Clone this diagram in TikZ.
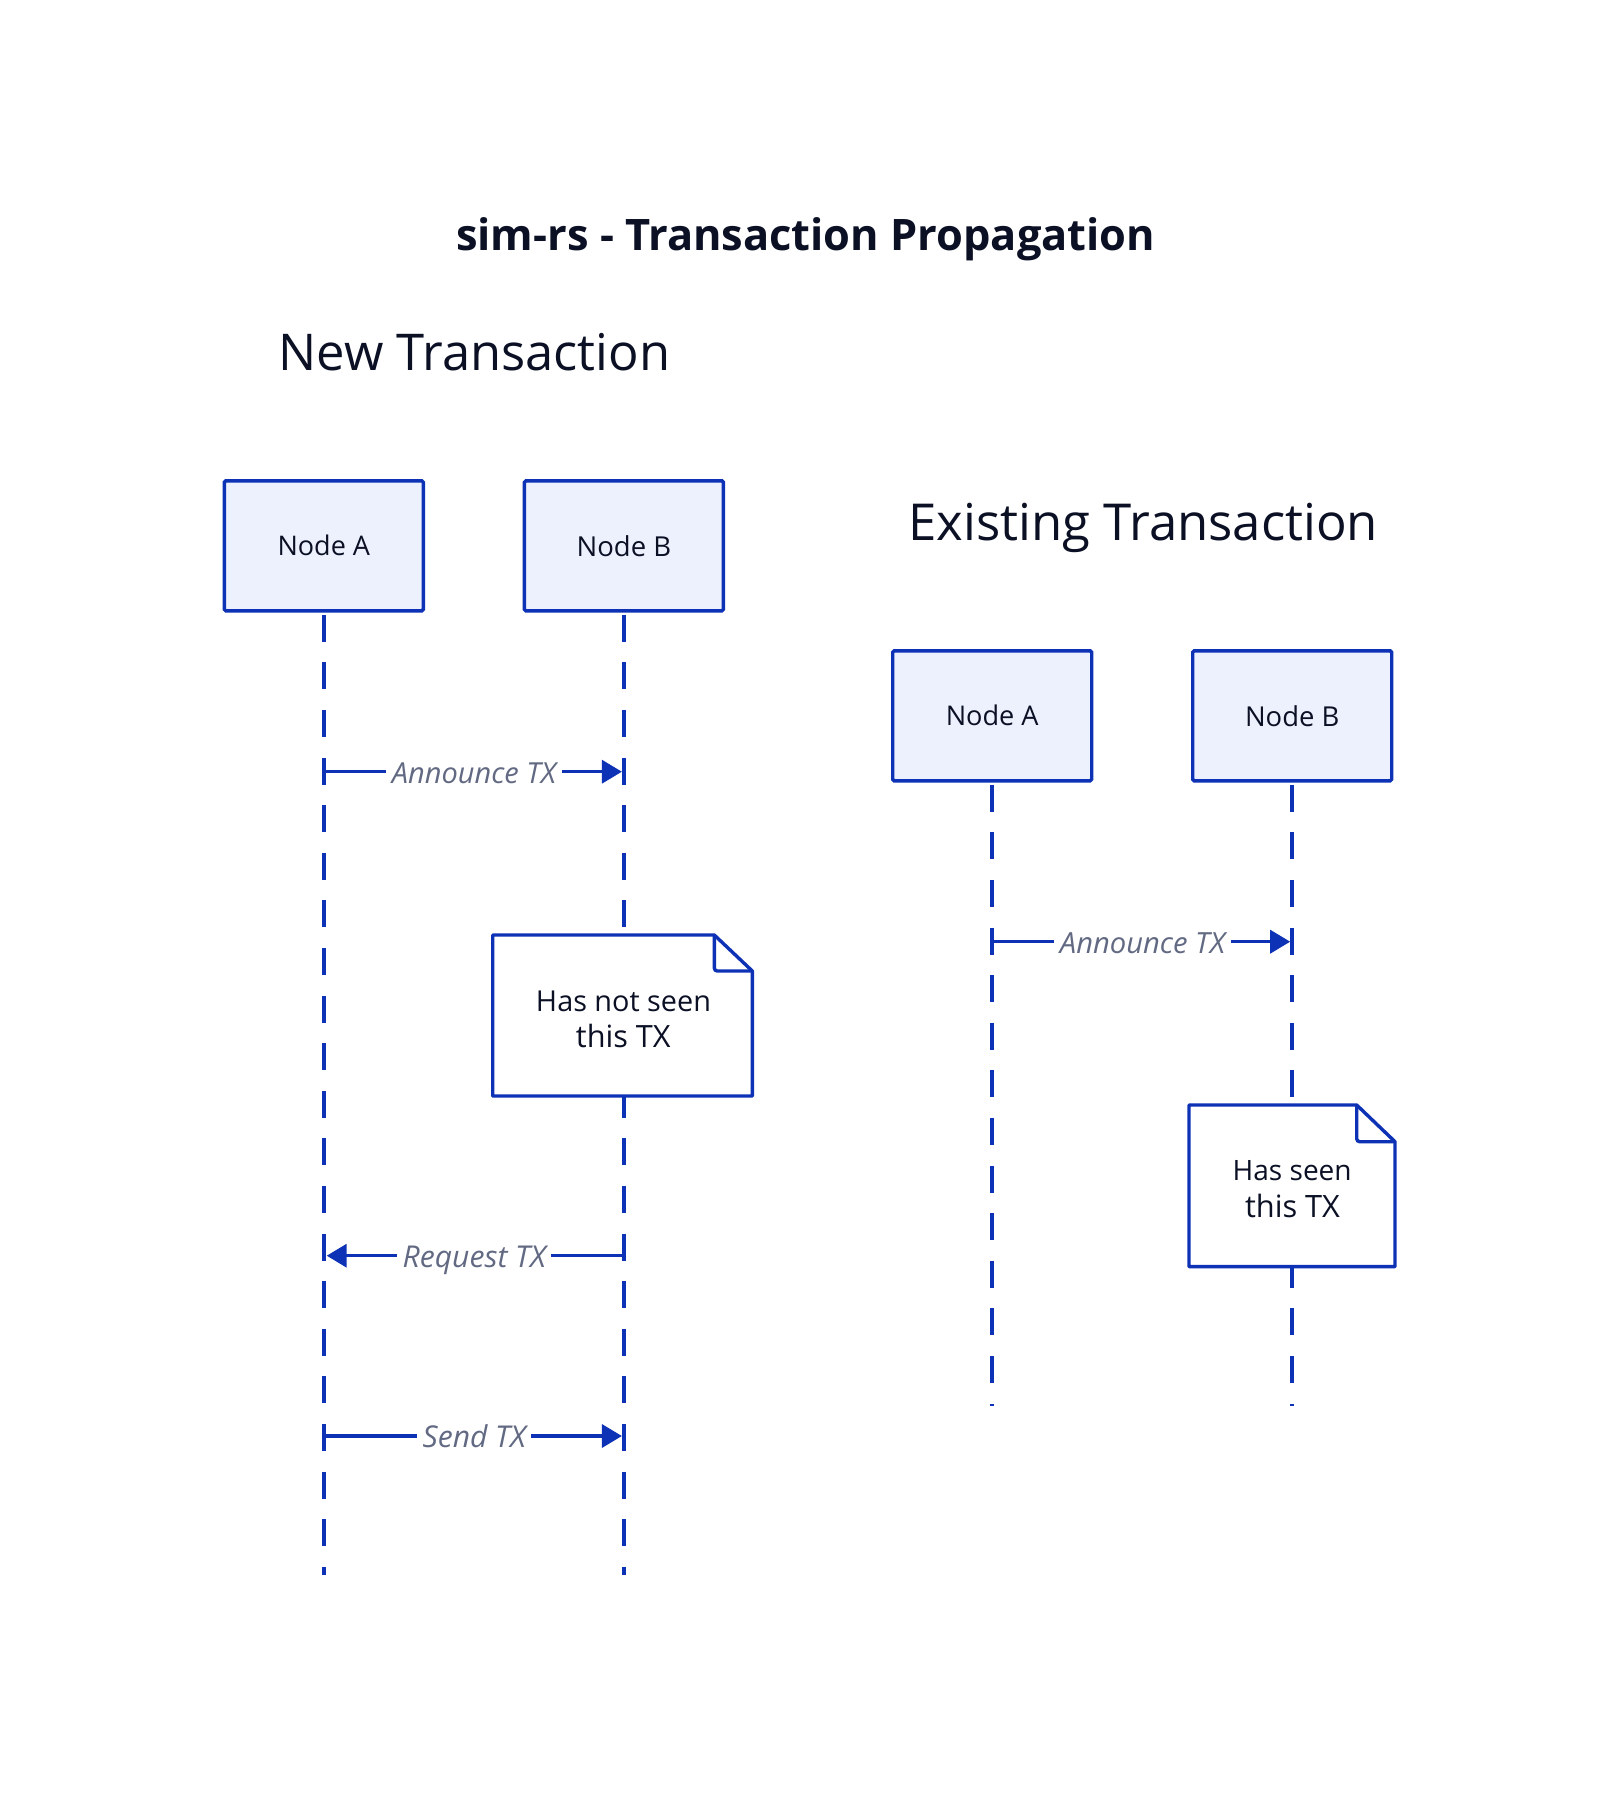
\documentclass[tikz,border=0pt]{standalone}
\usepackage{fontspec}
\setmainfont{Open Sans}
\usetikzlibrary{arrows.meta}
\definecolor{lnblue}{RGB}{13,50,181}
\definecolor{boxfill}{RGB}{236,241,253}
\definecolor{txtdark}{RGB}{11,16,37}
\definecolor{lblgray}{RGB}{98,105,130}
\newcommand{\fitw}[2]{\resizebox{#1pt}{!}{#2}}
\tikzset{
  actor/.style={draw=lnblue, fill=boxfill, line width=3.4pt, rounded corners=1.5pt,
    minimum width=199pt, minimum height=130pt, inner sep=0pt, text=txtdark},
  lifeline/.style={draw=lnblue, line width=3.5pt, dash pattern=on 27pt off 20.6pt, dash phase=45.4pt},
  msg/.style={draw=lnblue, line width=3.5pt, -{Triangle[length=20pt,width=23pt]}},
  msglabel/.style={fill=white, inner xsep=5.5pt, inner ysep=1pt, text=lblgray, anchor=base, font=\itshape},
  notebox/.style={draw=lnblue, fill=white, line width=3.4pt, line join=round},
  notefold/.style={draw=lnblue, line width=3.4pt, rounded corners=3pt},
  notetext/.style={text=txtdark, anchor=base, inner sep=0pt},
  heading/.style={text=txtdark, anchor=base west, inner sep=0pt}
}
\begin{document}
\begin{tikzpicture}[x=1pt,y=-1pt]
\fill[white] (0,0) rectangle (1616,1800);
\useasboundingbox (0,0) rectangle (1616,1800);

% titles
\node[heading] (title) at (456,250) {\fitw{699}{\bfseries sim-rs - Transaction Propagation}};
\node[heading] (hnew) at (278.5,370.7) {\fitw{391.5}{New Transaction}};
\node[heading] (hex) at (908.2,540.7) {\fitw{469.7}{Existing Transaction}};

% ---------- New Transaction ----------
\coordinate (endLA) at (323.8,1575);
\coordinate (endLB) at (623.9,1575);
\draw[lifeline] (323.8,612.5) -- (endLA);
\draw[lifeline] (623.9,612.5) -- (endLB);
\node[actor] (LA) at (323.8,545.8) {\fitw{92.5}{Node A}};
\node[actor] (LB) at (623.9,545.8) {\fitw{94.5}{Node B}};

% Announce TX
\coordinate (m1s) at (323.8,771.7);
\coordinate (m1e) at (621.9,771.7);
\draw[msg] (m1s) -- (m1e);
\node[msglabel] (m1l) at (474,783.3) {\fitw{164}{Announce TX}};

% note
\coordinate (n1tl) at (492.7,935);
\coordinate (n1f) at (714.3,935);
\coordinate (n1r) at (752.3,971);
\coordinate (n1br) at (752.3,1096);
\coordinate (n1bl) at (492.7,1096);
\draw[notebox] (n1tl) -- (n1f) -- (n1r) -- (n1br) -- (n1bl) -- cycle;
\draw[notefold] (n1f) -- (714.3,971) -- (n1r);
\node[notetext] (n1a) at (623.5,1011) {\fitw{175}{Has not seen}};
\node[notetext] (n1b) at (623.3,1047.7) {\fitw{94.7}{this TX}};

% Request TX
\coordinate (m2s) at (623.9,1255.7);
\coordinate (m2e) at (326.7,1255.7);
\draw[msg] (m2s) -- (m2e);
\node[msglabel] (m2l) at (474.3,1267.7) {\fitw{143.3}{Request TX}};

% Send TX
\coordinate (m3s) at (323.8,1436);
\coordinate (m3e) at (621.9,1436);
\draw[msg] (m3s) -- (m3e);
\node[msglabel] (m3l) at (474.3,1447.3) {\fitw{103.3}{Send TX}};

% ---------- Existing Transaction ----------
\coordinate (endRA) at (992.2,1406);
\coordinate (endRB) at (1292.2,1406);
\draw[lifeline] (992.2,782.5) -- (endRA);
\draw[lifeline] (1292.2,782.5) -- (endRB);
\node[actor] (RA) at (992.2,715.8) {\fitw{92.9}{Node A}};
\node[actor] (RB) at (1292.2,715.8) {\fitw{94.3}{Node B}};

% Announce TX
\coordinate (m4s) at (992.2,941.7);
\coordinate (m4e) at (1290.2,941.7);
\draw[msg] (m4s) -- (m4e);
\node[msglabel] (m4l) at (1142.5,953.3) {\fitw{165}{Announce TX}};

% note
\coordinate (n2tl) at (1189,1105);
\coordinate (n2f) at (1356.7,1105);
\coordinate (n2r) at (1395,1141.7);
\coordinate (n2br) at (1395,1266.6);
\coordinate (n2bl) at (1189,1266.6);
\draw[notebox] (n2tl) -- (n2f) -- (n2r) -- (n2br) -- (n2bl) -- cycle;
\draw[notefold] (n2f) -- (1356.7,1141.7) -- (n2r);
\node[notetext] (n2a) at (1292.2,1180.7) {\fitw{119}{Has seen}};
\node[notetext] (n2b) at (1292.5,1217.3) {\fitw{95}{this TX}};
\end{tikzpicture}
\end{document}
